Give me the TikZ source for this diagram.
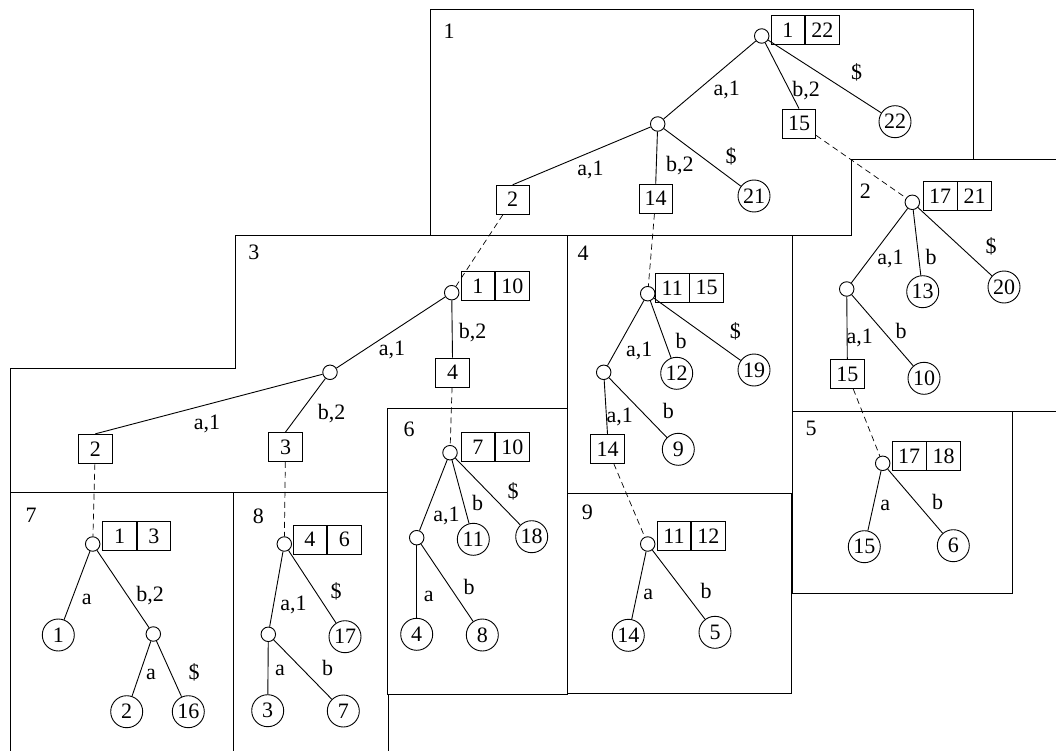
\documentclass[tikz,border=0pt]{standalone}
\usepackage{fontspec}
\setmainfont{Liberation Serif}
\begin{document}
\begin{tikzpicture}[x=1pt,y=-1pt,line width=0.9pt,
  every node/.style={font=\fontsize{22}{26}\selectfont,inner sep=0pt},
  inner/.style={circle,draw,minimum size=14.5pt},
  leaf/.style={circle,draw,minimum size=32pt},
  cell/.style={draw,minimum width=33.5pt,minimum height=29pt,anchor=west},
  ptr/.style={draw,minimum width=33.5pt,minimum height=29pt},
  link/.style={dash pattern=on 6pt off 4pt,line width=0.7pt},
  frame/.style={line width=1pt}]
\useasboundingbox (0,0) rectangle (1056,751);

% ---------- page outlines ----------
\draw[frame] (430,10) -- (973,10) -- (973,160) -- (851,160) -- (851,235) -- (430,235) -- cycle;
\draw[frame] (851,160) -- (1056,160);
\draw[frame] (792,235) -- (792,411) -- (1056,411);
\draw[frame] (235,235) -- (567,235) -- (567,408) -- (387,408) -- (387,492) -- (10,492) -- (10,368) -- (235,368) -- cycle;
\draw[frame] (567,235) rectangle (792,493);
\draw[frame] (792,411) rectangle (1012,593);
\draw[frame] (387,408) rectangle (567,694);
\draw[frame] (567,493) rectangle (791,693);
\draw[frame] (10,492) -- (10,751);
\draw[frame] (233,492) -- (233,751);
\draw[frame] (388,694) -- (388,751);

% page numbers
\node (pg1) at (449,31.7) {1};
\node (pg2) at (865.3,191.7) {2};
\node (pg3) at (253.8,252.2) {3};
\node (pg4) at (583,252.8) {4};
\node (pg5) at (811,428.3) {5};
\node (pg6) at (409,429.7) {6};
\node (pg7) at (31,515) {7};
\node (pg8) at (258.3,515.8) {8};
\node (pg9) at (587.3,512.2) {9};

% ---------- tree on page 1 ----------
\node[inner] (t1r) at (761.7,36) {};
\node[cell] (t1a) at (770.7,30) {1};
\node[cell] (t1b) at (t1a.east) {22};
\node[inner] (t1i) at (657.7,124) {};
\node[ptr] (t1p15) at (799,123.5) {15};
\node[leaf] (t1l22) at (895,121.7) {22};
\node[ptr] (t1p2) at (512.7,199.7) {2};
\node[ptr] (t1p14) at (655.7,198.7) {14};
\node[leaf] (t1l21) at (754,196) {21};
\draw (t1r) -- (t1i);
\draw (t1r) -- (t1p15.north);
\draw (t1r) -- (t1l22);
\draw (t1i) -- (t1p2.north);
\draw (t1i) -- (t1p14.north);
\draw (t1i) -- (t1l21);
\node (t1e1) at (726.7,90) {a,1};
\node (t1e2) at (806,91) {b,2};
\node (t1e3) at (856.7,72) {\$};
\node (t1e4) at (590.5,170) {a,1};
\node (t1e5) at (679.8,165.5) {b,2};
\node (t1e6) at (731,156) {\$};

% ---------- tree on page 2 ----------
\node[inner] (t2r) at (912.3,202.3) {};
\node[cell] (t2a) at (923,196.2) {17};
\node[cell] (t2b) at (t2a.east) {21};
\node[inner] (t2i) at (846.7,289) {};
\node[leaf] (t2l13) at (922.7,291.7) {13};
\node[leaf] (t2l20) at (1004,287) {20};
\node[ptr] (t2p15) at (847.3,374) {15};
\node[leaf] (t2l10) at (924,378.3) {10};
\draw (t2r) -- (t2i);
\draw (t2r) -- (t2l13);
\draw (t2r) -- (t2l20);
\draw (t2i) -- (t2p15.north);
\draw (t2i) -- (t2l10);
\node (t2e1) at (890.5,259) {a,1};
\node (t2e2) at (931,256.7) {b};
\node (t2e3) at (991,246) {\$};
\node (t2e4) at (859.7,337.5) {a,1};
\node (t2e5) at (901,331) {b};

% ---------- tree on page 3 ----------
\node[inner] (t3r) at (451.7,292.7) {};
\node[cell] (t3a) at (460.7,286.3) {1};
\node[cell] (t3b) at (t3a.east) {10};
\node[inner] (t3i) at (330,372.3) {};
\node[ptr] (t3p4) at (452.5,372.5) {4};
\node[ptr] (t3p2) at (95.3,448.8) {2};
\node[ptr] (t3p3) at (285.5,447) {3};
\draw (t3r) -- (t3i);
\draw (t3r) -- (t3p4.north);
\draw (t3i) -- (t3p2.north);
\draw (t3i) -- (t3p3.north);
\node (t3e1) at (392,350) {a,1};
\node (t3e2) at (472.5,332.5) {b,2};
\node (t3e3) at (207,424) {a,1};
\node (t3e4) at (331.7,414) {b,2};

% ---------- tree on page 4 ----------
\node[inner] (t4r) at (647.7,293.7) {};
\node[cell] (t4a) at (655,287.8) {11};
\node[cell] (t4b) at (t4a.east) {15};
\node[inner] (t4i) at (603.7,372.3) {};
\node[leaf] (t4l12) at (676.7,373.3) {12};
\node[leaf] (t4l19) at (754,370) {19};
\node[ptr] (t4p14) at (607.5,448.8) {14};
\node[leaf] (t4l9) at (678.3,449.3) {9};
\draw (t4r) -- (t4i);
\draw (t4r) -- (t4l12);
\draw (t4r) -- (t4l19);
\draw (t4i) -- (t4p14.north);
\draw (t4i) -- (t4l9);
\node (t4e1) at (639.2,350.8) {a,1};
\node (t4e2) at (681,341.3) {b};
\node (t4e3) at (735.3,331.7) {\$};
\node (t4e4) at (619.7,417.2) {a,1};
\node (t4e5) at (668.3,411.3) {b};

% ---------- tree on page 5 ----------
\node[inner] (t5r) at (882.7,463.3) {};
\node[cell] (t5a) at (892,456.2) {17};
\node[cell] (t5b) at (t5a.east) {18};
\node[leaf] (t5l15) at (864.3,546.7) {15};
\node[leaf] (t5l6) at (953.3,545.7) {6};
\draw (t5r) -- (t5l15);
\draw (t5r) -- (t5l6);
\node (t5e1) at (885.3,505) {a};
\node (t5e2) at (937.5,501.5) {b};

% ---------- tree on page 6 ----------
\node[inner] (t6r) at (450,452.7) {};
\node[cell] (t6a) at (460.7,447) {7};
\node[cell] (t6b) at (t6a.east) {10};
\node[inner] (t6i) at (416.7,537.7) {};
\node[leaf] (t6l11) at (473.3,539.3) {11};
\node[leaf] (t6l18) at (531.7,536.7) {18};
\node[leaf] (t6l4) at (416.7,634.3) {4};
\node[leaf] (t6l8) at (482.3,635) {8};
\draw (t6r) -- (t6i);
\draw (t6r) -- (t6l11);
\draw (t6r) -- (t6l18);
\draw (t6i) -- (t6l4);
\draw (t6i) -- (t6l8);
\node (t6e1) at (446.5,515.8) {a,1};
\node (t6e2) at (477.5,503) {b};
\node (t6e3) at (513,491.3) {\$};
\node (t6e4) at (428.7,596.3) {a};
\node (t6e5) at (469,587) {b};

% ---------- tree on page 7 ----------
\node[inner] (t7r) at (92.7,544) {};
\node[cell] (t7a) at (102.3,536.3) {1};
\node[cell] (t7b) at (t7a.east) {3};
\node[leaf] (t7l1) at (58.3,635) {1};
\node[inner] (t7i) at (153.3,634) {};
\node[leaf] (t7l2) at (126.7,711.7) {2};
\node[leaf] (t7l16) at (188.3,711.7) {16};
\draw (t7r) -- (t7l1);
\draw (t7r) -- (t7i);
\draw (t7i) -- (t7l2);
\draw (t7i) -- (t7l16);
\node (t7e1) at (86.7,599) {a};
\node (t7e2) at (150,595.8) {b,2};
\node (t7e3) at (151,674) {a};
\node (t7e4) at (194,672.5) {\$};

% ---------- tree on page 8 ----------
\node[inner] (t8r) at (284.3,544) {};
\node[cell] (t8a) at (292.7,539.5) {4};
\node[cell] (t8b) at (t8a.east) {6};
\node[inner] (t8i) at (268.3,634.3) {};
\node[leaf] (t8l17) at (345,636.7) {17};
\node[leaf] (t8l3) at (267.7,710.7) {3};
\node[leaf] (t8l7) at (343.3,711) {7};
\draw (t8r) -- (t8i);
\draw (t8r) -- (t8l17);
\draw (t8i) -- (t8l3);
\draw (t8i) -- (t8l7);
\node (t8e1) at (293.5,605) {a,1};
\node (t8e2) at (336,591.7) {\$};
\node (t8e3) at (280,670.8) {a};
\node (t8e4) at (327.5,668.3) {b};

% ---------- tree on page 9 ----------
\node[inner] (t9r) at (647.7,544) {};
\node[cell] (t9a) at (656.7,536.3) {11};
\node[cell] (t9b) at (t9a.east) {12};
\node[leaf] (t9l14) at (628.3,635.3) {14};
\node[leaf] (t9l5) at (715,632.3) {5};
\draw (t9r) -- (t9l14);
\draw (t9r) -- (t9l5);
\node (t9e1) at (648.3,594) {a};
\node (t9e2) at (706,591) {b};

% ---------- links between pages ----------
\draw[link] (t1p15) -- (t2r);
\draw[link] (t1p2) -- (t3r);
\draw[link] (t1p14) -- (t4r);
\draw[link] (t2p15) -- (t5r);
\draw[link] (t3p2) -- (t7r);
\draw[link] (t3p3) -- (t8r);
\draw[link] (t3p4) -- (t6r);
\draw[link] (t4p14) -- (t9r);
\end{tikzpicture}
\end{document}
